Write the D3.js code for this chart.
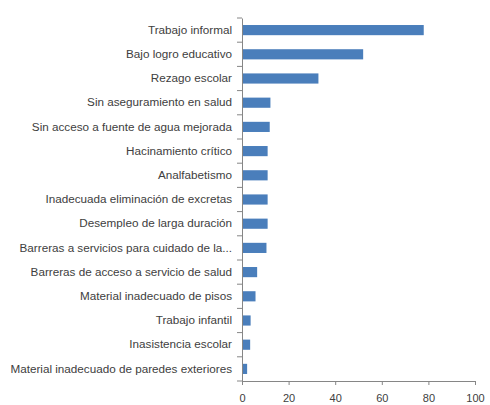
<!DOCTYPE html>
<html>
<head>
<meta charset="utf-8">
<script src="https://cdn.jsdelivr.net/npm/d3@7"></script>
<style>
  body { margin: 0; background: #fff; }
  svg text { font-family: "Liberation Sans", Arial, sans-serif; fill: #404040; }
</style>
</head>
<body>
<div id="chart"></div>
<script>
const categories = [
    "Trabajo informal",
    "Bajo logro educativo",
    "Rezago escolar",
    "Sin aseguramiento en salud",
    "Sin acceso a fuente de agua mejorada",
    "Hacinamiento crítico",
    "Analfabetismo",
    "Inadecuada eliminación de excretas",
    "Desempleo de larga duración",
    "Barreras a servicios para cuidado de la...",
    "Barreras de acceso a servicio de salud",
    "Material inadecuado de pisos",
    "Trabajo infantil",
    "Inasistencia escolar",
    "Material inadecuado de paredes exteriores"
];
const values = [78.0, 52.0, 32.8, 12.2, 11.9, 11.0, 11.0, 11.0, 11.0, 10.5, 6.5, 5.8, 3.7, 3.5, 2.2];
const xTicks = [0, 20, 40, 60, 80, 100];

const width = 490,
    height = 405,
    margin = { top: 18, right: 15, bottom: 24, left: 242 };

const data = categories.map((c, i) => ({ name: c, value: values[i] }));

const xScale = d3.scaleLinear()
    .domain([0, 100])
    .range([margin.left, width - margin.right]);

const yScale = d3.scaleBand()
    .domain(categories)
    .range([margin.top, height - margin.bottom])
    .paddingInner(0.58)
    .paddingOuter(0.29);

const svg = d3.select("#chart").append("svg")
    .attr("width", width)
    .attr("height", height);

svg.selectAll("rect.bar")
    .data(data)
    .enter()
    .append("rect")
    .attr("class", "bar")
    .attr("x", xScale(0))
    .attr("y", d => yScale(d.name))
    .attr("width", d => xScale(d.value) - xScale(0))
    .attr("height", yScale.bandwidth())
    .attr("fill", "#4a7ebb");

// x axis
const xAxis = svg.append("g")
    .attr("transform", `translate(0,${height - margin.bottom})`)
    .call(d3.axisBottom(xScale).tickValues(xTicks).tickSize(4).tickSizeOuter(0).tickPadding(9));
xAxis.select(".domain").attr("stroke", "#868686");
xAxis.selectAll(".tick line").attr("stroke", "#868686");
xAxis.selectAll("text")
    .style("font-size", "11px");

// y axis
const yAxis = svg.append("g")
    .attr("transform", `translate(${margin.left},0)`)
    .call(d3.axisLeft(yScale).tickSize(5).tickSizeOuter(0));
yAxis.select(".domain").attr("stroke", "#868686");
yAxis.selectAll(".tick line").remove();
yAxis.selectAll("text")
    .attr("x", -10)
    .style("font-size", "11.7px");

// category separators on y axis
const step = yScale.step();
svg.append("g")
    .selectAll("line")
    .data(d3.range(categories.length + 1))
    .enter()
    .append("line")
    .attr("x1", margin.left - 5)
    .attr("x2", margin.left)
    .attr("y1", i => margin.top + i * step)
    .attr("y2", i => margin.top + i * step)
    .attr("stroke", "#868686");
</script>
</body>
</html>
